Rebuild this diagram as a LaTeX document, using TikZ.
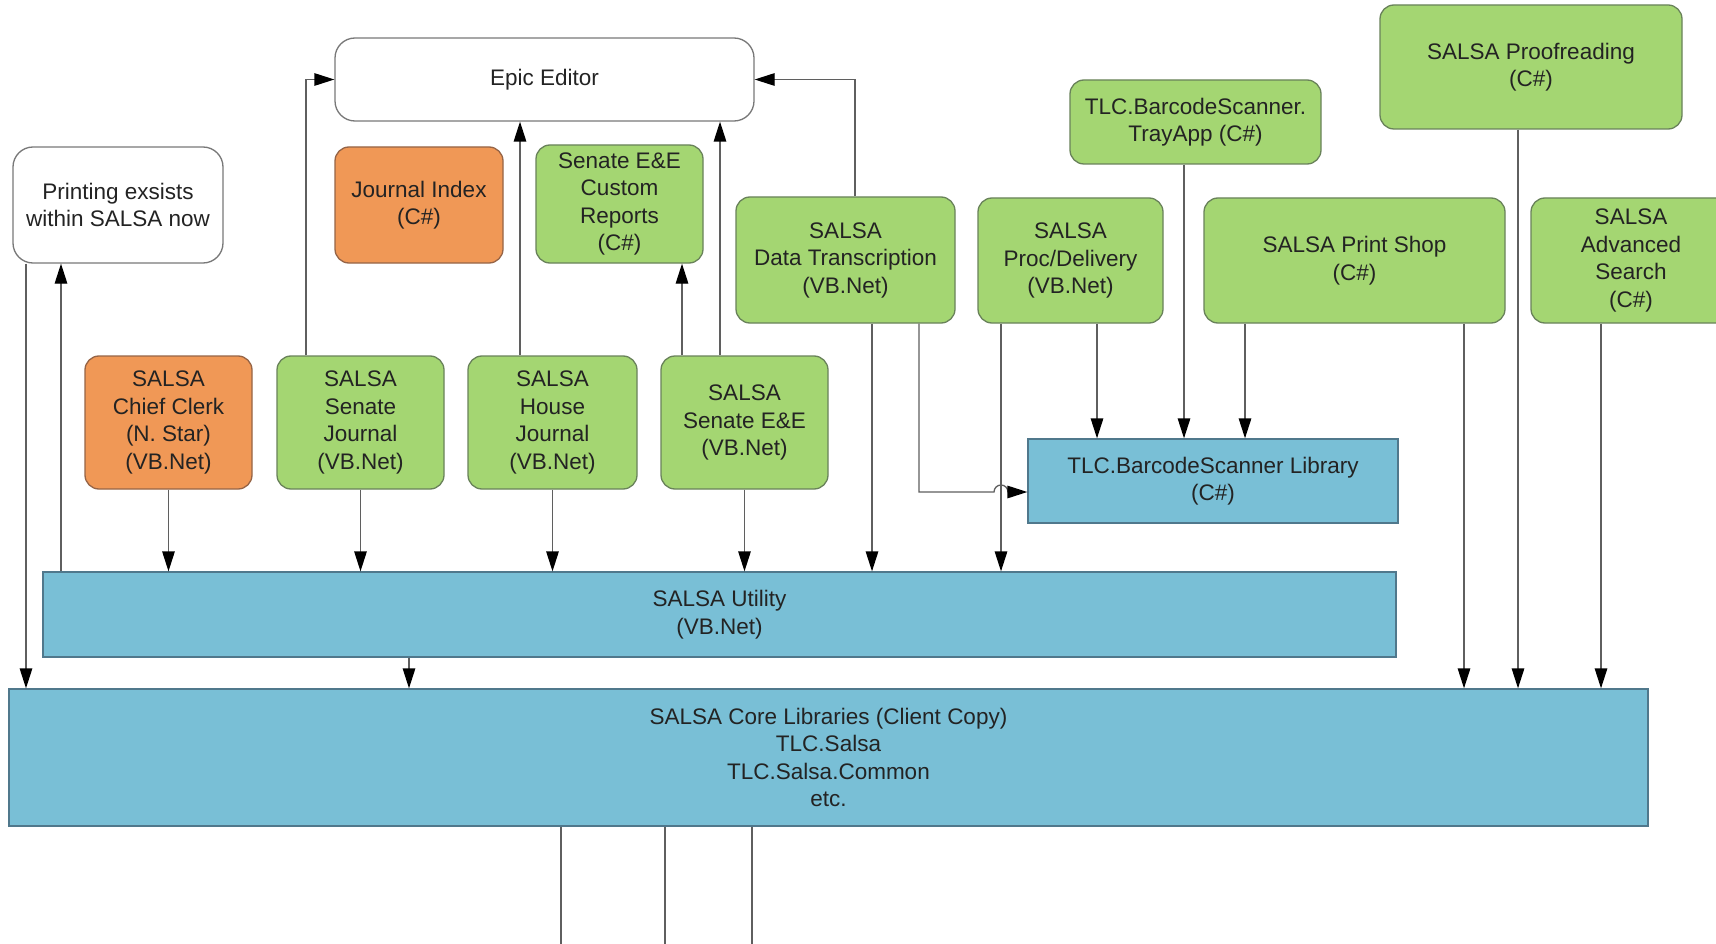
\documentclass[tikz,border=0pt]{standalone}
\usepackage{fontspec}
\setmainfont{Liberation Sans}
\usetikzlibrary{arrows.meta}
\definecolor{gfill}{RGB}{164,214,114}
\definecolor{gline}{RGB}{105,130,90}
\definecolor{ofill}{RGB}{240,152,86}
\definecolor{oline}{RGB}{150,100,70}
\definecolor{bfill}{RGB}{121,191,214}
\definecolor{bline}{RGB}{80,120,140}
\definecolor{wline}{RGB}{120,120,120}
\definecolor{lcol}{RGB}{95,95,95}
\definecolor{tcol}{RGB}{35,35,35}
\begin{document}
\begin{tikzpicture}[x=1pt,y=-1pt,
  base/.style={align=center, inner sep=0pt, line width=1.3pt, text=tcol,
    font=\fontsize{22.5}{27.5}\selectfont},
  gbox/.style={base, rounded corners=14pt, fill=gfill, draw=gline},
  obox/.style={base, rounded corners=14pt, fill=ofill, draw=oline},
  wbox/.style={base, rounded corners=20pt, fill=white, draw=wline},
  bbox/.style={base, fill=bfill, draw=bline},
  arr/.style={draw=lcol, line width=1.3pt, -{Triangle[length=20pt,width=12.5pt,fill=black,color=black]}},
  ln/.style={draw=lcol, line width=1.3pt}
]
\fill[white] (0,0) rectangle (1716,944);
\useasboundingbox (0,0) rectangle (1716,944);

% boxes
\node[wbox, minimum width=419pt, minimum height=83pt] (epic) at (544.5,79.5) {Epic Editor};
\node[wbox, minimum width=210pt, minimum height=116pt] (print) at (118,205) {Printing exsists\\within SALSA now};
\node[obox, minimum width=168pt, minimum height=116pt] (jindex) at (419,205) {Journal Index\\(C\#)};
\node[gbox, minimum width=167pt, minimum height=118pt] (srep) at (619.5,204) {Senate E\&E\\Custom\\Reports\\(C\#)};
\node[gbox, minimum width=219pt, minimum height=126pt] (dtrans) at (845.5,260) {SALSA\\Data Transcription\\(VB.Net)};
\node[gbox, minimum width=185pt, minimum height=125pt] (proc) at (1070.5,260.5) {SALSA\\Proc/Delivery\\(VB.Net)};
\node[gbox, minimum width=301pt, minimum height=125pt] (pshop) at (1354.5,260.5) {SALSA Print Shop\\(C\#)};
\node[gbox, minimum width=200pt, minimum height=125pt] (advs) at (1631,260.5) {SALSA\\Advanced\\Search\\(C\#)};
\node[gbox, minimum width=302pt, minimum height=124pt] (proof) at (1531,67) {SALSA Proofreading\\(C\#)};
\node[gbox, minimum width=251pt, minimum height=84pt] (tray) at (1195.5,122) {TLC.BarcodeScanner.\\TrayApp (C\#)};
\node[obox, minimum width=167pt, minimum height=133pt] (clerk) at (168.5,422.5) {SALSA\\Chief Clerk\\(N. Star)\\(VB.Net)};
\node[gbox, minimum width=167pt, minimum height=133pt] (sjour) at (360.5,422.5) {SALSA\\Senate\\Journal\\(VB.Net)};
\node[gbox, minimum width=169pt, minimum height=133pt] (hjour) at (552.5,422.5) {SALSA\\House\\Journal\\(VB.Net)};
\node[gbox, minimum width=167pt, minimum height=133pt] (see) at (744.5,422.5) {SALSA\\Senate E\&E\\(VB.Net)};
\node[bbox, minimum width=370pt, minimum height=84pt] (lib) at (1213,481) {TLC.BarcodeScanner Library\\(C\#)};
\node[bbox, minimum width=1353pt, minimum height=85pt] (util) at (719.5,614.5) {SALSA Utility\\(VB.Net)};
\node[bbox, minimum width=1639pt, minimum height=137pt] (core) at (828.5,757.5) {SALSA Core Libraries (Client Copy)\\TLC.Salsa\\TLC.Salsa.Common\\etc.};

% helper coordinates
\coordinate (sj1) at ([xshift=-54.5pt]sjour.north);
\coordinate (hj1) at ([xshift=-32.5pt]hjour.north);
\coordinate (se1) at ([xshift=-62.5pt]see.north);
\coordinate (se2) at ([xshift=-24.5pt]see.north);
\coordinate (dt1) at ([xshift=9.5pt]dtrans.north);
\coordinate (dt2) at ([xshift=26.5pt]dtrans.south);
\coordinate (dt3) at ([xshift=73.5pt]dtrans.south);
\coordinate (pd1) at ([xshift=-69.5pt]proc.south);
\coordinate (pd2) at ([xshift=26.5pt]proc.south);
\coordinate (tr1) at ([xshift=-11.5pt]tray.south);
\coordinate (ps1) at ([xshift=-109.5pt]pshop.south);
\coordinate (ps2) at ([xshift=109.5pt]pshop.south);
\coordinate (pf1) at ([xshift=-13pt]proof.south);
\coordinate (as1) at ([xshift=-30pt]advs.south);
\coordinate (ut1) at ([xshift=-658.5pt]util.north);
\coordinate (ut2) at ([xshift=-310.5pt]util.south);
\coordinate (pr1) at ([xshift=-92pt]print.south);
\coordinate (cb1) at ([xshift=-267.5pt]core.south);
\coordinate (cb2) at ([xshift=-163.5pt]core.south);
\coordinate (cb3) at ([xshift=-76.5pt]core.south);
\coordinate (e1) at (561,944);
\coordinate (e2) at (665,944);
\coordinate (e3) at (752,944);
\coordinate (jmp) at (919,492);

% connectors to Epic Editor and reports
\draw[arr] (sj1) |- (epic.west);
\draw[arr] (hj1) -- (hj1 |- epic.south);
\draw[arr] (se1) -- (se1 |- srep.south);
\draw[arr] (se2) -- (se2 |- epic.south);
\draw[arr] (dt1) |- (epic.east);

% connectors to utility
\draw[arr] (clerk.south) -- (clerk.south |- util.north);
\draw[arr] (sjour.south) -- (sjour.south |- util.north);
\draw[arr] (hjour.south) -- (hjour.south |- util.north);
\draw[arr] (see.south) -- (see.south |- util.north);
\draw[arr] (dt2) -- (dt2 |- util.north);
\draw[arr] (pd1) -- (pd1 |- util.north);

% connectors to barcode library
\draw[arr] (dt3) -- (dt3 |- jmp) -- ([xshift=-7pt]pd1 |- jmp) arc[start angle=180,end angle=0,radius=7pt] -- (jmp -| lib.west);
\draw[arr] (pd2) -- (pd2 |- lib.north);
\draw[arr] (tr1) -- (tr1 |- lib.north);
\draw[arr] (ps1) -- (ps1 |- lib.north);

% connectors to core
\draw[arr] (ps2) -- (ps2 |- core.north);
\draw[arr] (pf1) -- (pf1 |- core.north);
\draw[arr] (as1) -- (as1 |- core.north);
\draw[arr] (ut2) -- (ut2 |- core.north);
\draw[arr] (pr1) -- (pr1 |- core.north);
\draw[arr] (ut1) -- (ut1 |- print.south);

% lines leaving core
\draw[ln] (cb1) -- (e1);
\draw[ln] (cb2) -- (e2);
\draw[ln] (cb3) -- (e3);
\end{tikzpicture}
\end{document}
